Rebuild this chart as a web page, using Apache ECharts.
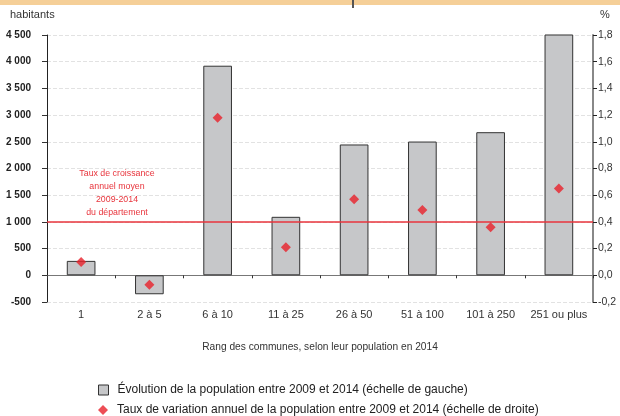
<!DOCTYPE html>
<html><head><meta charset="utf-8">
<script src="https://cdn.jsdelivr.net/npm/echarts@6/dist/echarts.min.js"></script>
<style>html,body{margin:0;padding:0;background:#fff}#c{width:620px;height:416px}</style>
</head><body><div id="c"></div>
<script>
var categories = ['1', '2 à 5', '6 à 10', '11 à 25', '26 à 50', '51 à 100', '101 à 250', '251 ou plus'];
var populationChange = [270, -355, 3925, 1095, 2450, 2505, 2680, 4510];
var annualRate = [0.10, -0.07, 1.18, 0.21, 0.57, 0.49, 0.36, 0.65];
var departmentRate = 0.4;
var barName = 'Évolution de la population entre 2009 et 2014 (échelle de gauche)';
var rateName = 'Taux de variation annuel de la population entre 2009 et 2014 (échelle de droite)';
var refLabel = 'Taux de croissance\nannuel moyen\n2009-2014\ndu département';

var font = 'Liberation Sans';
function fmtLeft(v){ var s = Math.abs(v).toString(); s = s.replace(/\B(?=(\d{3})+(?!\d))/g, ' '); return (v<0?'-':'') + s; }
function fmtRight(v){ return v.toFixed(1).replace('.', ','); }

var chart = echarts.init(document.getElementById('c'), null, {renderer:'canvas'});
chart.setOption({
  animation: false,
  textStyle: {fontFamily: font},
  grid: {left: 47, right: 27, top: 35, bottom: 114},
  graphic: [
    {type:'rect', shape:{x:0,y:0,width:620,height:5}, style:{fill:'#f5cf98'}},
    {type:'rect', shape:{x:352,y:0,width:2,height:8}, style:{fill:'#555'}},
    {type:'text', left: 10, top: 9, style:{text:'habitants', fontFamily:font, fontSize:11, fill:'#333'}},
    {type:'text', left: 600, top: 9, style:{text:'%', fontFamily:font, fontSize:11, fill:'#333'}},
    {type:'text', x: 117, y: 167, style:{text: refLabel, fontFamily:font, fontSize:8.8, fill:'#e8343c', align:'center', lineHeight:13}}
  ],
  legend: [
    {left: 93, top: 379, itemWidth: 10, itemHeight: 10,
     textStyle: {fontFamily: font, fontSize: 12, color: '#222', padding:[0,0,0,4]},
     data: [{name: barName, icon: 'rect', itemStyle:{color:'#c6c7c9', borderColor:'#333', borderWidth:1}}]},
    {left: 93, top: 399, itemWidth: 10, itemHeight: 10,
     textStyle: {fontFamily: font, fontSize: 12, color: '#222', padding:[0,0,0,4]},
     data: [{name: rateName, icon: 'diamond', itemStyle:{color:'#e8202a'}}]}
  ],
  xAxis: [
    {type:'category', data: categories, position:'bottom',
     axisLine:{show:false, onZero:false}, axisTick:{show:false},
     axisLabel:{color:'#333', fontSize:11, margin:7, fontFamily:font, interval:0},
     name:'Rang des communes, selon leur population en 2014', nameLocation:'middle', nameGap:40,
     nameTextStyle:{color:'#333', fontSize:10.2, fontFamily:font}},
    {type:'category', data: categories, position:'bottom',
     axisLine:{show:true, onZero:true, lineStyle:{color:'#777', width:1}},
     axisTick:{show:true, length:3, interval:0, lineStyle:{color:'#333'}},
     axisLabel:{show:false}}
  ],
  yAxis: [
    {type:'value', min:-500, max:4500, interval:500, position:'left',
     axisLine:{show:true, lineStyle:{color:'#222', width:1}},
     axisTick:{show:true, length:5, lineStyle:{color:'#333'}},
     axisLabel:{formatter: fmtLeft, color:'#222', fontSize:10, fontWeight:'bold', margin:16, fontFamily:font},
     splitLine:{show:true, lineStyle:{color:'#e2e2e2', type:'dashed'}}},
    {type:'value', min:-0.2, max:1.8, interval:0.2, position:'right',
     axisLine:{show:true, lineStyle:{color:'#888', width:2}},
     axisTick:{show:true, length:4, lineStyle:{color:'#222'}},
     axisLabel:{formatter: fmtRight, color:'#333', fontSize:10.5, margin:5, fontFamily:font},
     splitLine:{show:false}}
  ],
  series: [
    {name: barName, type:'bar', xAxisIndex:0, yAxisIndex:0, data: populationChange, barWidth:'42%',
     itemStyle:{color:'#c6c7c9', borderColor:'#333', borderWidth:1}},
    {name: rateName, type:'scatter', xAxisIndex:0, yAxisIndex:1, data: annualRate, symbol:'diamond', symbolSize:[10,10],
     itemStyle:{color:'#e8202a'}, z:5,
     markLine:{silent:true, symbol:'none', label:{show:false},
       lineStyle:{color:'#e8343c', width:1.5, type:'solid'},
       data:[{yAxis: departmentRate}]}}
  ]
});
</script>
</body></html>
